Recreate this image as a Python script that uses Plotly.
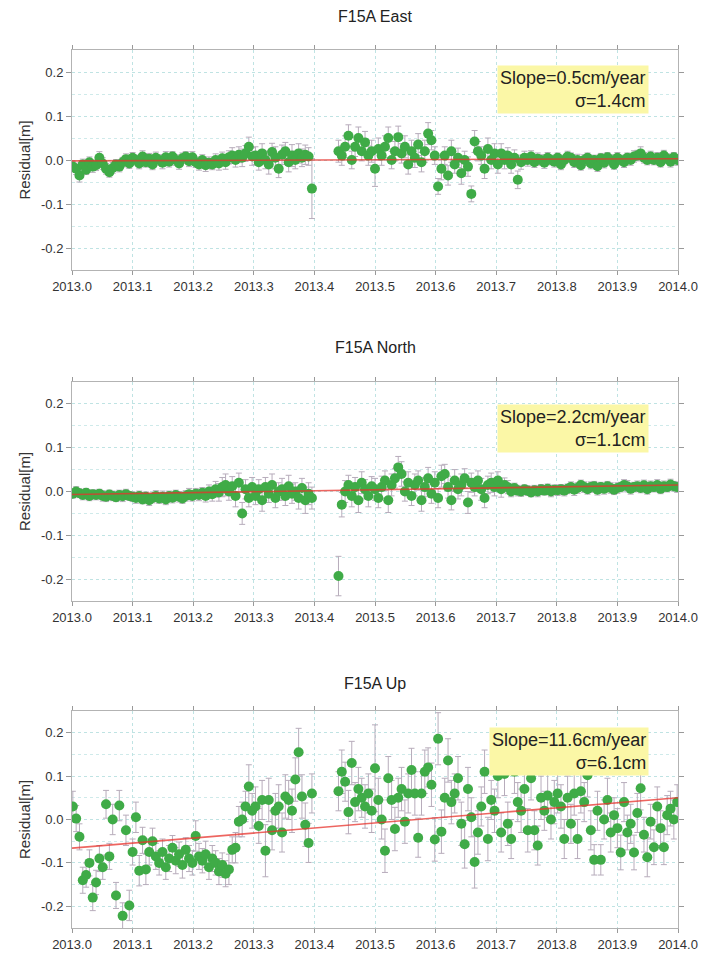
import plotly.graph_objects as go
from plotly.subplots import make_subplots

# ---------------- data ----------------
# One sample every 2 days (day-of-year 1,3,5,...); None = data gap
east_res = [
    -0.015, -0.02, -0.035, -0.01, -0.022, -0.005, -0.015, -0.012, 0.005, -0.008, -0.02, -0.028, -0.018,
    -0.01, -0.015, -0.005, 0.002, -0.008, 0.005,
    0.0, -0.008, 0.008, -0.005, 0.003, -0.01, 0.005, 0.0, -0.006, 0.006, -0.004, 0.008, 0.0,
    -0.008, 0.004, 0.008, -0.003, 0.006,
    -0.005, -0.01, 0.0, -0.012, -0.006, -0.01, 0.0, -0.008, 0.004, -0.005, 0.006, 0.01, 0.0,
    0.012, 0.005, 0.015, 0.03, 0.008,
    0.01, -0.005, 0.015, 0.0, -0.01, 0.018, 0.005, -0.02, 0.012, 0.02, -0.005, 0.01, 0.0,
    0.015, 0.005, 0.012, 0.008, -0.065,
    None, None, None, None, None, None, None,
    0.02, 0.01, 0.03, 0.055, 0.0, 0.03, 0.05, 0.02, 0.04, 0.01, 0.02,
    -0.02, 0.025, 0.01, 0.03, 0.05, 0.0, 0.02, 0.052, 0.015, 0.03, -0.01, 0.02, 0.005,
    0.035, -0.005, 0.02, 0.06, 0.045, 0.01,
    -0.06, -0.02, 0.01, -0.035, 0.02, -0.01, 0.005, -0.03, 0.0, -0.015, -0.077, 0.042, 0.02,
    0.01, -0.02, 0.025, 0.0, 0.015,
    -0.01, 0.015, 0.0, 0.01, -0.01, 0.005, -0.045, -0.005, 0.005, 0.0, 0.008, -0.005, 0.003,
    0.0, -0.006, 0.005, 0.0, -0.004,
    0.005, -0.01, 0.0, 0.008, 0.005, -0.005, 0.0, -0.012, 0.0, 0.005, -0.008, 0.0, -0.014,
    0.004, -0.006, 0.006, 0.0, -0.01,
    0.005, 0.0, -0.005, 0.005, 0.0, 0.008, 0.01, 0.015, 0.005, 0.0, 0.008, 0.0, 0.005,
    -0.005, 0.01, 0.003, -0.004, 0.006, 0.0,
]
east_err = [
    0.012, 0.013, 0.015, 0.012, 0.011, 0.012, 0.013, 0.012, 0.014, 0.013, 0.012, 0.011, 0.012,
    0.011, 0.012, 0.011, 0.012, 0.011, 0.012,
    0.011, 0.012, 0.013, 0.011, 0.012, 0.012, 0.013, 0.012, 0.014, 0.013, 0.012, 0.011, 0.012,
    0.013, 0.012, 0.011, 0.012, 0.013,
    0.012, 0.013, 0.012, 0.014, 0.013, 0.012, 0.014, 0.015, 0.014, 0.016, 0.015, 0.018, 0.016,
    0.018, 0.02, 0.018, 0.022, 0.02,
    0.02, 0.018, 0.022, 0.02, 0.022, 0.02, 0.025, 0.02, 0.022, 0.02, 0.022, 0.025, 0.02,
    0.022, 0.02, 0.022, 0.02, 0.068,
    0, 0, 0, 0, 0, 0, 0,
    0.025, 0.022, 0.025, 0.025, 0.02, 0.022, 0.025, 0.022, 0.025, 0.022, 0.025,
    0.04, 0.025, 0.022, 0.025, 0.025, 0.02, 0.022, 0.025, 0.022, 0.025, 0.022, 0.025, 0.022,
    0.025, 0.022, 0.025, 0.025, 0.022, 0.02,
    0.018, 0.025, 0.02, 0.022, 0.025, 0.02, 0.022, 0.025, 0.02, 0.022, 0.018, 0.025, 0.022,
    0.02, 0.022, 0.025, 0.02, 0.022,
    0.02, 0.022, 0.02, 0.018, 0.02, 0.018, 0.02, 0.016, 0.015, 0.014, 0.013, 0.012, 0.013,
    0.012, 0.013, 0.012, 0.011, 0.012,
    0.011, 0.012, 0.011, 0.012, 0.011, 0.012, 0.013, 0.011, 0.012, 0.011, 0.012, 0.011, 0.012,
    0.011, 0.012, 0.011, 0.012, 0.011,
    0.012, 0.011, 0.012, 0.011, 0.012, 0.013, 0.012, 0.015, 0.012, 0.011, 0.012, 0.011, 0.012,
    0.011, 0.012, 0.011, 0.012, 0.011, 0.012,
]
north_res = [
    -0.005, 0.0, -0.004, -0.008, -0.003, -0.01, -0.006, -0.008, -0.005, -0.01, -0.012, -0.007, -0.01,
    -0.013, -0.008, -0.011, -0.006, -0.01, -0.012,
    -0.015, -0.01, -0.018, -0.012, -0.02, -0.015, -0.01, -0.016, -0.012, -0.018, -0.01, -0.014, -0.008,
    -0.012, -0.016, -0.01, -0.006, -0.01,
    -0.005, -0.008, -0.003, -0.01, 0.0, -0.006, 0.005, -0.002, 0.01, 0.015, 0.0, 0.012, -0.01,
    0.02, -0.05, 0.005, -0.015, 0.01,
    -0.01, 0.005, -0.02, 0.01, -0.005, 0.015, -0.015, 0.0, 0.005, -0.01, 0.012, -0.005, 0.0,
    -0.015, 0.008, -0.02, -0.005, -0.015,
    None, None, None, None, None, None, None,
    -0.193, -0.03, 0.0, 0.015, -0.01, 0.01, -0.02, 0.02, 0.005, -0.01, 0.012,
    0.005, -0.015, 0.01, 0.025, -0.02, 0.015, 0.03, 0.055, 0.04, 0.0, 0.02, -0.01, 0.015,
    0.025, -0.02, 0.01, 0.03, -0.005, 0.02,
    -0.015, 0.035, 0.04, 0.01, -0.02, 0.025, 0.005, 0.015, 0.03, -0.025, 0.02, 0.01, 0.025,
    0.005, -0.015, 0.015, 0.02, 0.01,
    0.025, 0.005, 0.015, 0.01, 0.0, 0.008, 0.002, 0.0, 0.005, 0.002, -0.002, 0.003, 0.0,
    0.005, 0.002, 0.006, 0.0, 0.004,
    0.003, 0.005, 0.002, 0.006, 0.01, 0.004, 0.008, 0.015, 0.01, 0.005, 0.01, 0.012, 0.004,
    0.01, 0.006, 0.012, 0.008, 0.004,
    0.008, 0.01, 0.015, 0.012, 0.006, 0.01, 0.012, 0.008, 0.014, 0.005, 0.012, 0.01, 0.015,
    0.006, 0.012, 0.01, 0.016, 0.012, 0.01,
]
north_err = [
    0.01, 0.011, 0.01, 0.011, 0.01, 0.011, 0.01, 0.011, 0.01, 0.012, 0.011, 0.01, 0.011,
    0.01, 0.011, 0.012, 0.011, 0.01, 0.011,
    0.012, 0.011, 0.01, 0.011, 0.012, 0.011, 0.012, 0.011, 0.013, 0.012, 0.011, 0.012, 0.011,
    0.012, 0.011, 0.012, 0.013, 0.012,
    0.012, 0.013, 0.012, 0.014, 0.015, 0.016, 0.018, 0.02, 0.022, 0.025, 0.02, 0.022, 0.025,
    0.022, 0.025, 0.022, 0.02, 0.022,
    0.02, 0.022, 0.025, 0.022, 0.02, 0.025, 0.022, 0.02, 0.025, 0.022, 0.025, 0.022, 0.02,
    0.025, 0.022, 0.03, 0.025, 0.025,
    0, 0, 0, 0, 0, 0, 0,
    0.045, 0.028, 0.025, 0.022, 0.025, 0.022, 0.028, 0.025, 0.022, 0.025, 0.022,
    0.025, 0.022, 0.025, 0.022, 0.028, 0.025, 0.022, 0.025, 0.028, 0.022, 0.025, 0.022, 0.025,
    0.022, 0.025, 0.022, 0.025, 0.022, 0.025,
    0.022, 0.025, 0.022, 0.025, 0.022, 0.025, 0.022, 0.025, 0.022, 0.025, 0.022, 0.02, 0.022,
    0.025, 0.022, 0.02, 0.022, 0.02,
    0.02, 0.018, 0.016, 0.015, 0.012, 0.011, 0.012, 0.011, 0.01, 0.011, 0.01, 0.011, 0.012,
    0.011, 0.01, 0.011, 0.012, 0.011,
    0.012, 0.011, 0.012, 0.011, 0.012, 0.013, 0.012, 0.011, 0.012, 0.011, 0.012, 0.011, 0.012,
    0.011, 0.012, 0.011, 0.012, 0.011,
    0.012, 0.011, 0.012, 0.013, 0.012, 0.011, 0.012, 0.011, 0.012, 0.011, 0.012, 0.011, 0.012,
    0.011, 0.012, 0.011, 0.012, 0.011, 0.012,
]
up_res = [
    0.03, 0.002, -0.04, -0.14, -0.128, -0.10, -0.18, -0.145, -0.09, -0.11, 0.035, -0.085, 0.0,
    -0.175, 0.032, -0.222, -0.025, -0.198, -0.075, 0.005, -0.118, -0.048, -0.115, -0.075, -0.05,
    -0.085, -0.10, -0.075, -0.11, -0.09, -0.065, -0.095, -0.08, -0.105, -0.07, -0.09, -0.1,
    -0.038, -0.085, -0.095, -0.08, -0.11, -0.09, -0.1, -0.12, -0.105, -0.125, -0.115,
    -0.07, -0.065, -0.005, 0.0, 0.03, 0.076, 0.02, 0.03, -0.015, 0.045, -0.072, 0.045, -0.025,
    0.02, 0.03, -0.03, 0.053, 0.045, 0.02, 0.092, 0.155, 0.053, -0.012, -0.054, 0.06,
    None, None, None, None, None, None, None,
    0.065, 0.11, 0.087, 0.017, 0.13, 0.04, 0.07, 0.05, 0.03, 0.06, 0.02,
    0.118, 0.045, 0.0, -0.072, 0.095, 0.045, -0.022, 0.05, 0.07, -0.005, 0.06, 0.114, 0.06,
    -0.042, 0.06, 0.11, 0.12, 0.08, -0.046,
    0.186, -0.028, 0.05, 0.136, 0.04, 0.06, 0.095, -0.01, -0.057, 0.07, 0.005, -0.098, -0.03,
    0.03, 0.11, -0.045, 0.045, 0.02,
    0.1, -0.03, 0.105, -0.01, -0.045, 0.11, 0.04, 0.02, 0.07, -0.025, 0.095, -0.025, -0.06,
    0.05, 0.02, 0.055, 0.0, 0.04,
    0.06, 0.03, -0.045, 0.05, -0.01, 0.06, -0.045, 0.065, 0.04, 0.102, -0.025, -0.093, 0.02,
    -0.093, 0.0, 0.045, -0.03, 0.01,
    -0.02, -0.076, 0.04, -0.03, -0.01, -0.076, 0.015, 0.072, -0.035, -0.087, -0.005, -0.064,
    0.03, -0.02, -0.064, 0.01, 0.025, 0.0, 0.04,
]
up_err = [
    0.035, 0.03, 0.03, 0.03, 0.028, 0.03, 0.03, 0.028, 0.03, 0.028, 0.032, 0.03, 0.035,
    0.03, 0.035, 0.03, 0.035, 0.035, 0.03, 0.035, 0.035, 0.03, 0.035, 0.03, 0.03,
    0.03, 0.028, 0.03, 0.028, 0.03, 0.028, 0.03, 0.028, 0.03, 0.028, 0.03, 0.028,
    0.035, 0.03, 0.028, 0.03, 0.028, 0.03, 0.028, 0.03, 0.028, 0.03, 0.035,
    0.03, 0.035, 0.035, 0.04, 0.035, 0.05, 0.04, 0.045, 0.04, 0.045, 0.06, 0.05, 0.045,
    0.04, 0.05, 0.045, 0.05, 0.045, 0.05, 0.05, 0.055, 0.05, 0.05, 0.045, 0.045,
    0, 0, 0, 0, 0, 0, 0,
    0.045, 0.05, 0.045, 0.05, 0.05, 0.045, 0.05, 0.045, 0.05, 0.045, 0.05,
    0.1, 0.05, 0.045, 0.05, 0.05, 0.045, 0.05, 0.045, 0.05, 0.05, 0.045, 0.05, 0.05,
    0.045, 0.05, 0.05, 0.045, 0.05, 0.05,
    0.06, 0.05, 0.045, 0.05, 0.05, 0.045, 0.05, 0.05, 0.055, 0.05, 0.045, 0.06, 0.05,
    0.045, 0.05, 0.05, 0.045, 0.05,
    0.05, 0.045, 0.05, 0.05, 0.045, 0.05, 0.045, 0.05, 0.045, 0.05, 0.05, 0.045, 0.045,
    0.05, 0.045, 0.05, 0.045, 0.05,
    0.045, 0.05, 0.045, 0.05, 0.045, 0.05, 0.045, 0.05, 0.045, 0.05, 0.045, 0.035, 0.045,
    0.035, 0.045, 0.05, 0.045, 0.04,
    0.045, 0.04, 0.045, 0.04, 0.045, 0.04, 0.045, 0.05, 0.04, 0.045, 0.04, 0.04,
    0.045, 0.04, 0.04, 0.045, 0.04, 0.045, 0.04,
]

obs_day = list(range(1, 366, 2))  # day of year of each sample

panel_titles = ["F15A East", "F15A North", "F15A Up"]
slopes_cm = [0.5, 2.2, 11.6]        # cm/year (as labelled)
sigmas_cm = [1.4, 1.1, 6.1]         # cm
trend_intercepts = [-0.002, -0.007, -0.066]  # m at 2013.0
trend_slopes = [0.005, 0.022, 0.116]         # m/year

x_ticks = [2013.0, 2013.1, 2013.2, 2013.3, 2013.4, 2013.5, 2013.6, 2013.7, 2013.8, 2013.9, 2014.0]
y_ticks = [-0.2, -0.1, 0.0, 0.1, 0.2]

# ---------------- figure ----------------
def to_year(days):
    return [2013 + (d - 0.5) / 365.0 for d in days]

series = [(east_res, east_err), (north_res, north_err), (up_res, up_err)]

fig = make_subplots(rows=3, cols=1)

GREEN = "#3fab47"
ERRC = "#b7acbb"
RED = "#e8322c"
FONT = "Liberation Sans, Arial, Helvetica, sans-serif"

for i, (res, err) in enumerate(series):
    r = i + 1
    fig.add_trace(go.Scatter(
        x=to_year(obs_day), y=res, mode="markers",
        marker=dict(color=GREEN, size=10, line=dict(width=0)),
        error_y=dict(type="data", array=err, visible=True, color=ERRC, thickness=1, width=3),
        showlegend=False, hoverinfo="x+y"), row=r, col=1)
    x0, x1 = 2013.0, 2014.0
    fig.add_trace(go.Scatter(
        x=[x0, x1],
        y=[trend_intercepts[i], trend_intercepts[i] + trend_slopes[i] * (x1 - x0)],
        mode="lines", line=dict(color=RED, width=1.6), opacity=0.75,
        showlegend=False, hoverinfo="skip"), row=r, col=1)

domains = [[0.7494, 1.0], [0.3724, 0.6219], [0.0, 0.2472]]
title_y = [1.0387, 0.6606, 0.279]
box_y = [0.93, 0.90, 0.925]

for i in range(3):
    xa = "xaxis" if i == 0 else f"xaxis{i+1}"
    ya = "yaxis" if i == 0 else f"yaxis{i+1}"
    fig.layout[xa].update(
        range=[2013.0, 2014.0], tickvals=x_ticks, ticktext=[f"{v:.1f}" for v in x_ticks],
        showline=True, linecolor="#b3b3b3", linewidth=1, mirror="ticks",
        ticks="outside", ticklen=4, tickcolor="#999999", automargin=False,
        showgrid=True, gridcolor="#bfe3e3", griddash="dot", gridwidth=1,
        zeroline=False, tickfont=dict(family=FONT, size=13, color="#333333"))
    fig.layout[ya].update(
        domain=domains[i], range=[-0.25, 0.25], tickvals=y_ticks,
        ticktext=[f"{v:.1f}" for v in y_ticks], automargin=False,
        showline=True, linecolor="#b3b3b3", linewidth=1, mirror="ticks",
        ticks="outside", ticklen=5, tickcolor="#999999",
        showgrid=True, gridcolor="#bfe3e3", griddash="dot", gridwidth=1,
        minor=dict(dtick=0.05, tick0=0.0, showgrid=True, gridcolor="#cfeaea", griddash="dot"),
        zeroline=False, tickfont=dict(family=FONT, size=13, color="#333333"),
        title=dict(text="Residual[m]", font=dict(family=FONT, size=15, color="#333333"), standoff=6))
    fig.add_annotation(
        xref="paper", yref="paper", x=0.5, y=title_y[i], text=panel_titles[i],
        showarrow=False, xanchor="center", yanchor="middle",
        font=dict(family=FONT, size=16, color="#222222"))
    fig.add_annotation(
        xref=f"x{'' if i == 0 else i+1} domain", yref=f"y{'' if i == 0 else i+1} domain",
        x=0.952, y=box_y[i], xanchor="right", yanchor="top", align="right",
        text=f"Slope={slopes_cm[i]:.1f}cm/year<br>σ={sigmas_cm[i]:.1f}cm",
        showarrow=False, bgcolor="#fbf7a6", borderpad=2,
        font=dict(family=FONT, size=18, color="#222222"))

fig.update_layout(
    width=702, height=954,
    margin=dict(l=72, r=24, t=50, b=26),
    paper_bgcolor="white", plot_bgcolor="white",
    font=dict(family=FONT, color="#333333"),
)

fig.write_html("out.html", config={"displayModeBar": False},
               post_script="document.body.style.margin='0';")
